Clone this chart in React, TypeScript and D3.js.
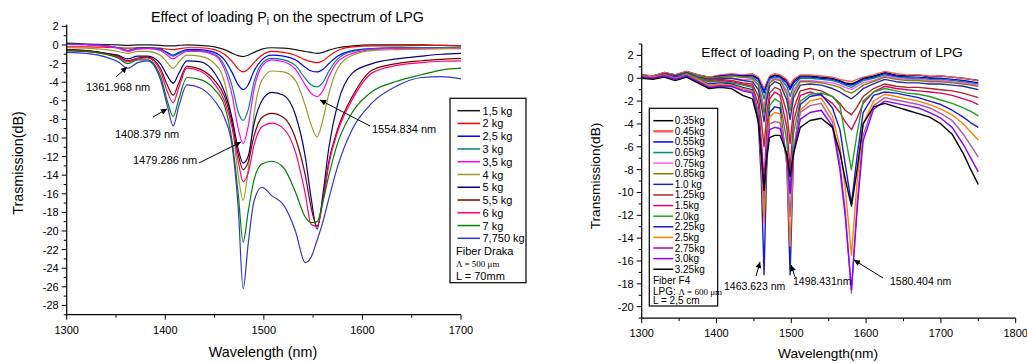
import React from "react";
import * as d3 from "d3";

// ---------------- LEFT PANEL DATA ----------------
const LEFT_WL = [1300, 1320, 1340, 1352, 1362, 1372, 1382, 1395, 1402, 1408, 1414, 1422, 1435, 1450, 1460, 1468, 1474, 1479, 1484, 1490, 1498, 1508, 1520, 1532, 1542, 1548, 1554, 1560, 1566, 1575, 1590, 1610, 1635, 1660, 1680, 1700];
const L_1_5KG = [0.2, 0.1, 0.05, 0, -0.05, 0, 0, -0.05, -0.1, -0.1, -0.05, 0, -0.05, -0.2, -0.5, -0.9, -1.15, -1.25, -1.1, -0.8, -0.45, -0.3, -0.35, -0.5, -0.7, -0.8, -0.9, -0.8, -0.55, -0.3, -0.1, 0, 0, 0, -0.05, -0.1];
const L_2KG = [-0.2, -0.2, -0.25, -0.3, -0.35, -0.3, -0.3, -0.35, -0.45, -0.5, -0.4, -0.3, -0.3, -0.5, -1.0, -1.8, -2.6, -2.9, -2.6, -1.9, -1.1, -0.7, -0.8, -1.1, -1.6, -1.8, -1.9, -1.7, -1.2, -0.6, -0.2, -0.1, -0.1, -0.05, -0.05, -0.1];
const L_2_5KG = [0.1, 0.05, -0.1, -0.3, -0.6, -0.35, -0.3, -0.45, -0.8, -1.1, -0.8, -0.5, -0.5, -0.8, -1.6, -3.0, -4.3, -4.8, -4.3, -2.8, -1.6, -1.1, -1.2, -1.6, -2.4, -2.8, -2.9, -2.6, -2.0, -1.2, -0.6, -0.4, -0.3, -0.3, -0.3, -0.3];
const L_3KG = [0.1, 0.05, -0.1, -0.3, -0.6, -0.4, -0.35, -0.5, -0.9, -1.2, -0.9, -0.6, -0.6, -1.0, -2.2, -4.5, -7.2, -8.1, -7.0, -4.0, -2.0, -1.45, -1.6, -2.2, -3.6, -4.3, -4.5, -4.0, -2.8, -1.5, -0.7, -0.4, -0.3, -0.3, -0.3, -0.3];
const L_3_5KG = [0.05, 0, -0.15, -0.35, -0.7, -0.45, -0.4, -0.6, -1.1, -1.5, -1.1, -0.7, -0.7, -1.1, -2.6, -5.5, -9.0, -10.6, -8.8, -4.8, -2.3, -1.6, -1.8, -2.6, -4.3, -5.2, -5.55, -4.9, -3.4, -1.8, -0.9, -0.5, -0.4, -0.4, -0.4, -0.4];
const L_4KG = [-0.3, -0.35, -0.5, -0.7, -0.9, -0.7, -0.7, -1.1, -1.9, -2.5, -1.8, -1.1, -1.2, -2.0, -4.0, -8.5, -14.0, -16.7, -13.5, -7.5, -3.8, -2.8, -2.9, -3.8, -6.5, -8.6, -9.9, -8.0, -5.2, -2.5, -1.1, -0.6, -0.5, -0.45, -0.4, -0.35];
const L_5KG = [-0.5, -0.6, -0.9, -1.1, -1.5, -1.2, -1.2, -2.0, -3.3, -4.1, -3.0, -1.7, -1.8, -3.0, -5.0, -8.0, -11.2, -12.7, -12.0, -8.5, -6.0, -5.1, -5.4, -7.5, -12.0, -16.5, -19.8, -16.0, -11.0, -6.3, -3.0, -2.0, -1.5, -1.2, -1.0, -0.9];
const L_5_5KG = [-0.5, -0.6, -0.9, -1.2, -1.7, -1.4, -1.3, -2.5, -4.3, -5.4, -4.0, -2.3, -2.6, -3.8, -5.5, -8.5, -11.8, -13.4, -12.6, -9.8, -7.8, -7.35, -7.8, -10.0, -14.0, -17.5, -19.5, -16.5, -12.5, -9.0, -5.5, -2.7, -2.0, -1.7, -1.55, -1.45];
const L_6KG = [-0.6, -0.7, -1.0, -1.3, -1.8, -1.5, -1.4, -2.8, -5.0, -6.2, -4.5, -2.5, -2.8, -4.2, -6.0, -9.0, -12.5, -14.7, -13.8, -10.8, -8.8, -8.4, -9.0, -11.5, -16.0, -19.3, -19.5, -16.8, -12.8, -9.3, -5.8, -3.0, -2.2, -1.9, -1.75, -1.7];
const L_7KG = [-0.6, -0.7, -1.0, -1.4, -2.0, -1.6, -1.6, -3.3, -6.0, -7.7, -5.7, -3.5, -3.7, -4.8, -6.5, -10.5, -16.0, -21.2, -18.0, -14.5, -12.8, -12.5, -13.2, -15.8, -18.5, -19.1, -19.0, -16.8, -14.0, -10.5, -7.2, -5.0, -3.9, -3.2, -2.7, -2.5];
const L_7_75KG = [-0.8, -0.9, -1.3, -1.8, -2.5, -1.9, -1.7, -3.7, -6.5, -8.7, -6.5, -4.3, -4.6, -6.0, -7.8, -11.0, -17.5, -26.2, -21.5, -16.8, -15.3, -16.2, -17.2, -20.0, -23.4, -22.8, -21.0, -19.0, -16.5, -13.0, -9.0, -6.2, -4.4, -3.5, -3.4, -3.65];
const LEFT_LABELS = ["1,5 kg", "2 kg", "2,5 kg", "3 kg", "3,5 kg", "4 kg", "5 kg", "5,5 kg", "6 kg", "7 kg", "7,750 kg"];
const LEFT_X_TICKS = [1300, 1400, 1500, 1600, 1700];
const LEFT_Y_TICKS = [-28, -26, -24, -22, -20, -18, -16, -14, -12, -10, -8, -6, -4, -2, 0, 2];

// ---------------- RIGHT PANEL DATA ----------------
const RIGHT_WL = [1300, 1315, 1330, 1345, 1360, 1375, 1390, 1405, 1420, 1435, 1448, 1456, 1460, 1463.6, 1467, 1471, 1478, 1485, 1494, 1498.4, 1503, 1512, 1525, 1540, 1555, 1565, 1572, 1580.4, 1588, 1596, 1610, 1625, 1640, 1655, 1670, 1685, 1700, 1715, 1730, 1740, 1750];
const R_035 = [0.3, 0.2, 0.5, 0.3, 0.6, 0.3, 0.1, 0.2, 0.3, 0.2, 0.3, 0.0, -0.5, -1.0, -0.5, 0.1, 0.3, 0.2, -0.2, -0.8, -0.2, 0.2, 0.2, 0.1, 0.0, -0.2, -0.4, -0.5, -0.3, 0.0, 0.2, 0.5, 0.3, 0.2, 0.3, 0.1, 0.2, 0.1, 0.0, -0.1, -0.2];
const R_045 = [0.3, 0.2, 0.5, 0.3, 0.6, 0.3, 0.1, 0.3, 0.4, 0.3, 0.4, 0.1, -0.4, -0.9, -0.4, 0.2, 0.4, 0.3, -0.1, -0.6, -0.1, 0.3, 0.3, 0.2, 0.1, -0.1, -0.2, -0.3, -0.1, 0.1, 0.3, 0.6, 0.4, 0.3, 0.3, 0.2, 0.2, 0.1, 0.0, -0.1, -0.25];
const R_055 = [0.2, 0.1, 0.4, 0.2, 0.5, 0.2, 0.0, 0.2, 0.3, 0.2, 0.2, -0.1, -0.7, -1.3, -0.6, 0.0, 0.2, 0.1, -0.4, -1.0, -0.4, 0.1, 0.1, 0.0, -0.1, -0.3, -0.5, -0.6, -0.4, -0.1, 0.1, 0.4, 0.2, 0.1, 0.1, 0.0, 0.0, -0.1, -0.2, -0.3, -0.4];
const R_065 = [0.2, 0.1, 0.4, 0.2, 0.5, 0.2, 0.0, 0.1, 0.2, 0.1, 0.1, -0.3, -1.0, -1.8, -0.9, -0.1, 0.1, 0.0, -0.7, -1.6, -0.7, 0.0, 0.0, -0.1, -0.2, -0.4, -0.6, -0.8, -0.5, -0.2, 0.0, 0.3, 0.1, 0.0, 0.0, -0.1, -0.1, -0.2, -0.3, -0.4, -0.5];
const R_075 = [0.1, 0.0, 0.3, 0.1, 0.4, 0.1, -0.2, 0.0, 0.0, -0.1, -0.1, -0.6, -1.5, -2.5, -1.3, -0.3, 0.0, -0.1, -1.1, -2.3, -1.0, -0.2, -0.2, -0.3, -0.4, -0.6, -0.8, -1.0, -0.7, -0.4, -0.2, 0.2, 0.0, -0.1, -0.1, -0.2, -0.2, -0.3, -0.4, -0.5, -0.6];
const R_085 = [0.2, 0.1, 0.4, 0.2, 0.5, 0.2, 0.0, 0.1, 0.2, 0.1, 0.0, -0.6, -1.8, -3.0, -1.6, -0.4, -0.1, -0.2, -1.4, -2.8, -1.3, -0.3, -0.3, -0.4, -0.6, -0.8, -1.1, -1.3, -1.0, -0.6, -0.3, 0.1, -0.1, -0.2, -0.2, -0.3, -0.3, -0.4, -0.5, -0.6, -0.7];
const R_100 = [0.2, 0.1, 0.4, 0.2, 0.5, 0.1, -0.1, 0.0, 0.0, -0.2, -0.3, -1.0, -2.4, -3.8, -2.0, -0.7, -0.3, -0.5, -1.9, -3.6, -1.7, -0.6, -0.5, -0.6, -0.9, -1.2, -1.5, -1.8, -1.4, -0.9, -0.5, -0.1, -0.3, -0.4, -0.4, -0.5, -0.5, -0.6, -0.7, -0.85, -1.0];
const R_125 = [0.2, 0.1, 0.4, 0.1, 0.4, 0.0, -0.2, -0.1, -0.2, -0.4, -0.5, -1.6, -3.8, -6.0, -3.2, -1.3, -0.8, -1.0, -3.0, -5.7, -2.7, -1.1, -0.9, -1.1, -1.6, -2.2, -2.8, -3.2, -2.5, -1.6, -0.9, -0.5, -0.7, -0.8, -0.8, -0.9, -1.0, -1.1, -1.3, -1.5, -1.7];
const R_150 = [0.1, 0.0, 0.3, 0.1, 0.4, 0.0, -0.3, -0.2, -0.3, -0.5, -0.7, -2.3, -5.5, -9.0, -4.8, -1.8, -1.2, -1.5, -4.3, -8.0, -3.8, -1.5, -1.2, -1.5, -2.2, -3.0, -3.8, -4.5, -3.5, -2.2, -1.2, -0.7, -0.9, -1.0, -1.1, -1.2, -1.3, -1.5, -1.8, -2.0, -2.3];
const R_200 = [0.2, 0.1, 0.3, 0.1, 0.4, 0.0, -0.3, -0.3, -0.4, -0.6, -0.8, -3.0, -7.5, -12.1, -6.5, -2.4, -1.8, -2.1, -5.5, -10.0, -4.8, -2.0, -1.4, -1.3, -1.6, -2.4, -5.0, -8.0, -4.8, -2.0, -1.2, -0.9, -1.1, -1.3, -1.4, -1.6, -1.9, -2.2, -2.6, -2.9, -3.3];
const R_225 = [0.2, 0.1, 0.3, 0.1, 0.3, -0.1, -0.5, -0.4, -0.5, -0.8, -1.0, -4.0, -9.0, -17.2, -8.0, -3.0, -2.5, -2.6, -7.5, -17.2, -6.5, -2.3, -1.6, -1.4, -2.6, -4.5, -7.5, -11.0, -6.8, -3.0, -1.5, -1.2, -1.3, -1.5, -1.7, -2.0, -2.3, -2.8, -3.4, -3.9, -4.3];
const R_250 = [0.2, 0.1, 0.3, 0.0, 0.3, -0.1, -0.6, -0.5, -0.6, -0.9, -1.1, -3.5, -7.5, -12.7, -6.8, -3.4, -3.0, -3.1, -7.5, -14.7, -6.5, -2.8, -2.0, -1.75, -3.3, -6.0, -9.5, -15.5, -9.0, -4.0, -2.0, -1.4, -1.6, -1.8, -2.0, -2.3, -2.7, -3.2, -4.0, -4.7, -5.4];
const R_275 = [0.2, 0.0, 0.3, 0.0, 0.3, -0.2, -0.7, -0.6, -0.7, -1.0, -1.2, -3.5, -7.0, -10.5, -6.5, -4.0, -3.8, -3.9, -7.0, -12.1, -6.3, -3.0, -2.4, -2.2, -3.8, -7.5, -11.5, -18.8, -11.0, -5.0, -2.4, -1.7, -1.9, -2.1, -2.3, -2.6, -3.1, -3.7, -4.9, -5.9, -6.9];
const R_300 = [0.1, 0.0, 0.2, -0.1, 0.2, -0.3, -0.8, -0.7, -0.7, -1.1, -1.3, -3.5, -6.5, -9.8, -6.5, -4.5, -4.3, -4.4, -6.8, -10.1, -6.5, -3.6, -3.0, -2.8, -4.2, -8.0, -12.0, -18.5, -11.5, -5.5, -2.7, -2.0, -2.2, -2.4, -2.6, -3.0, -3.5, -4.3, -5.8, -7.0, -8.2];
const R_325 = [0.0, -0.1, 0.1, -0.2, 0.1, -0.4, -0.9, -0.8, -0.9, -1.5, -1.8, -3.8, -6.8, -9.8, -7.0, -5.2, -5.0, -5.0, -6.6, -8.6, -6.6, -4.3, -3.7, -3.5, -4.3, -6.5, -8.8, -11.2, -8.0, -4.0, -2.5, -2.2, -2.5, -2.8, -3.1, -3.4, -4.0, -4.9, -6.6, -8.0, -9.3];
const RIGHT_LABELS = ["0.35kg", "0.45kg", "0.55kg", "0.65kg", "0.75kg", "0.85kg", "1.0 kg", "1.25kg", "1.5kg", "2.0kg", "2.25kg", "2.5kg", "2.75kg", "3.0kg", "3.25kg"];
const RIGHT_X_TICKS = [1300, 1400, 1500, 1600, 1700, 1800];
const RIGHT_Y_TICKS = [-20, -18, -16, -14, -12, -10, -8, -6, -4, -2, 0, 2];

const LEFT_VALUES = [L_1_5KG, L_2KG, L_2_5KG, L_3KG, L_3_5KG, L_4KG, L_5KG, L_5_5KG, L_6KG, L_7KG, L_7_75KG];
const LEFT_COLORS = ["#1a1a1a", "#ff0000", "#0000ff", "#008080", "#ff00ff", "#9a9a2a", "#000080", "#800000", "#ff0077", "#008000", "#3535c8"];
const RIGHT_VALUES = [R_035, R_045, R_055, R_065, R_075, R_085, R_100, R_125, R_150, R_200, R_225, R_250, R_275, R_300, R_325];
const RIGHT_COLORS = ["#000000", "#ff5a5a", "#0000ff", "#008b8b", "#ff55ff", "#808000", "#2a2a9a", "#a52a2a", "#dd0066", "#22a022", "#1a1ad0", "#ff8000", "#b055b0", "#8800ff", "#000000"];

const FONT = "'Liberation Sans', Arial, sans-serif";

function Axes({ x, y, xTicks, yTicks, xMinor, yMinor }) {
  const [x0, x1] = x.range();
  const [y0, y1] = y.range();
  return (
    <g fontFamily={FONT} fontSize={11} fill="#000">
      <line x1={x0} x2={x1} y1={y0} y2={y0} stroke="#000" strokeWidth={1.2} />
      <line x1={x0} x2={x0} y1={y0} y2={y1} stroke="#000" strokeWidth={1.2} />
      {xTicks.map((t) => (
        <g key={"xt" + t}>
          <line x1={x(t)} x2={x(t)} y1={y0} y2={y0 + 5} stroke="#000" />
          <text x={x(t)} y={y0 + 19} textAnchor="middle">{t}</text>
        </g>
      ))}
      {xMinor.map((t) => (
        <line key={"xm" + t} x1={x(t)} x2={x(t)} y1={y0} y2={y0 + 3} stroke="#000" />
      ))}
      {yTicks.map((t) => (
        <g key={"yt" + t}>
          <line x1={x0 - 5} x2={x0} y1={y(t)} y2={y(t)} stroke="#000" />
          <text x={x0 - 8} y={y(t) + 4} textAnchor="end">{t}</text>
        </g>
      ))}
      {yMinor.map((t) => (
        <line key={"ym" + t} x1={x0 - 3} x2={x0} y1={y(t)} y2={y(t)} stroke="#000" />
      ))}
    </g>
  );
}

function Title({ x, y, size }) {
  return (
    <text x={x} y={y} textAnchor="middle" fontFamily={FONT} fontSize={size}>
      Effect of loading P<tspan dy={3} fontSize={size * 0.7}>i</tspan><tspan dy={-3}> on the spectrum of LPG</tspan>
    </text>
  );
}

function Arrow({ x1, y1, x2, y2 }) {
  return <line x1={x1} y1={y1} x2={x2} y2={y2} stroke="#000" strokeWidth={1} markerEnd="url(#arrowhead)" />;
}

export default function App() {
  const xL = d3.scaleLinear().domain([1300, 1700]).range([66.7, 461]);
  const yL = d3.scaleLinear().domain([-29, 2.2]).range([314.7, 24.5]);
  const xR = d3.scaleLinear().domain([1300, 1800]).range([641.7, 1015.7]);
  const yR = d3.scaleLinear().domain([-21, 3]).range([318.1, 44.0]);

  const lineL = d3
    .line<number>()
    .x((_, i) => xL(LEFT_WL[i]))
    .y((v) => yL(v))
    .curve(d3.curveMonotoneX);
  const lineR = d3
    .line<number>()
    .x((_, i) => xR(RIGHT_WL[i]))
    .y((v) => yR(v))
    .curve(d3.curveLinear);

  const leftYMinor = d3.range(-29, 2.01, 1).filter((v) => Math.abs(v % 2) === 1);
  const rightYMinor = d3.range(-21, 3.01, 1).filter((v) => Math.abs(v % 2) === 1);
  const leftXMinor = [1350, 1450, 1550, 1650];
  const rightXMinor = [1350, 1450, 1550, 1650, 1750];

  const lRow0 = 110.7;
  const lStep = 12.76;
  const rRow0 = 120.7;
  const rStep = 10.61;

  return (
    <svg width={1027} height={363} style={{ position: "absolute", left: 0, top: 0, background: "#fff" }}>
      <defs>
        <marker id="arrowhead" viewBox="0 0 10 10" refX="10" refY="5" markerWidth="7" markerHeight="6" orient="auto" markerUnits="userSpaceOnUse">
          <path d="M0,0 L10,5 L0,10 z" fill="#000" />
        </marker>
        <clipPath id="clipL">
          <rect x={66.7} y={0} width={461 - 66.7} height={314.7} />
        </clipPath>
        <clipPath id="clipR">
          <rect x={641.7} y={0} width={1015.7 - 641.7} height={318.1} />
        </clipPath>
      </defs>
      <rect x={0} y={0} width={1027} height={363} fill="#fff" />

      {/* ---------- LEFT PANEL ---------- */}
      <Title x={287.5} y={22} size={14.3} />
      <g clipPath="url(#clipL)">
        {LEFT_VALUES.map((vals, i) => (
          <path key={i} d={lineL(vals) || ""} fill="none" stroke={LEFT_COLORS[i]} strokeWidth={1.2} />
        ))}
      </g>
      <Axes x={xL} y={yL} xTicks={LEFT_X_TICKS} yTicks={LEFT_Y_TICKS} xMinor={leftXMinor} yMinor={leftYMinor} />
      <text x={263} y={356.5} textAnchor="middle" fontFamily={FONT} fontSize={14.3}>Wavelength (nm)</text>
      <text transform="translate(23,163) rotate(-90)" textAnchor="middle" fontFamily={FONT} fontSize={14.3}>Trasmission(dB)</text>

      {/* left annotations */}
      <g fontFamily={FONT} fontSize={11}>
        <text x={86} y={91}>1361.968 nm</text>
        <Arrow x1={116} y1={77} x2={127} y2={67} />
        <text x={115} y={138}>1408.379 nm</text>
        <Arrow x1={153} y1={117} x2={167} y2={109} />
        <text x={133} y={164}>1479.286 nm</text>
        <Arrow x1={199} y1={163} x2={241} y2={142} />
        <text x={372} y={133}>1554.834 nm</text>
        <Arrow x1={370} y1={126} x2={320} y2={100} />
      </g>

      {/* left legend */}
      <rect x={450} y={98.3} width={76} height={184.4} fill="#fff" stroke="#000" strokeWidth={1.2} />
      <g fontFamily={FONT} fontSize={11}>
        {LEFT_LABELS.map((lab, i) => (
          <g key={lab}>
            <line x1={457.5} x2={480} y1={lRow0 + i * lStep} y2={lRow0 + i * lStep} stroke={LEFT_COLORS[i]} strokeWidth={1.5} />
            <text x={482.5} y={lRow0 + i * lStep + 4}>{lab}</text>
          </g>
        ))}
        <text x={456} y={255}>Fiber Draka</text>
        <text x={456} y={267} fontFamily="'Liberation Serif', 'Times New Roman', serif" fontSize={9}>Λ = 500 μm</text>
        <text x={456} y={280}>L = 70mm</text>
      </g>

      {/* ---------- RIGHT PANEL ---------- */}
      <Title x={832} y={56.5} size={13.7} />
      <g clipPath="url(#clipR)">
        {RIGHT_VALUES.map((vals, i) => (
          <path key={i} d={lineR(vals) || ""} fill="none" stroke={RIGHT_COLORS[i]} strokeWidth={1.4} strokeLinejoin="round" />
        ))}
      </g>
      <Axes x={xR} y={yR} xTicks={RIGHT_X_TICKS} yTicks={RIGHT_Y_TICKS} xMinor={rightXMinor} yMinor={rightYMinor} />
      <text x={828} y={358} textAnchor="middle" fontFamily={FONT} fontSize={13.7}>Wavelength(nm)</text>
      <text transform="translate(600,176) rotate(-90)" textAnchor="middle" fontFamily={FONT} fontSize={13.7}>Transmission(dB)</text>

      {/* right annotations */}
      <g fontFamily={FONT} fontSize={10.5}>
        <text x={724} y={290}>1463.623 nm</text>
        <Arrow x1={756} y1={276} x2={760} y2={262} />
        <text x={793} y={285}>1498.431nm</text>
        <Arrow x1={795} y1={277} x2={791} y2={265} />
        <text x={890} y={285}>1580.404 nm</text>
        <Arrow x1={883} y1={278} x2={854} y2={260} />
      </g>

      {/* right legend */}
      <rect x={649.3} y={108.3} width={68.4} height={197.7} fill="#fff" stroke="#000" strokeWidth={1.2} />
      <g fontFamily={FONT} fontSize={10}>
        {RIGHT_LABELS.map((lab, i) => (
          <g key={lab + i}>
            <line x1={653.3} x2={673.3} y1={rRow0 + i * rStep} y2={rRow0 + i * rStep} stroke={RIGHT_COLORS[i]} strokeWidth={i === 1 ? 2.5 : i === 12 ? 2.2 : 1.5} />
            <text x={674.7} y={rRow0 + i * rStep + 3.5}>{lab}</text>
          </g>
        ))}
        <text x={653} y={283.5}>Fiber F4</text>
        <text x={653} y={294.5}>LPG: <tspan fontFamily="'Liberation Serif', 'Times New Roman', serif" fontSize={9}>Λ = 600 μm</tspan></text>
        <text x={653} y={304}>L = 2,5 cm</text>
      </g>
    </svg>
  );
}
